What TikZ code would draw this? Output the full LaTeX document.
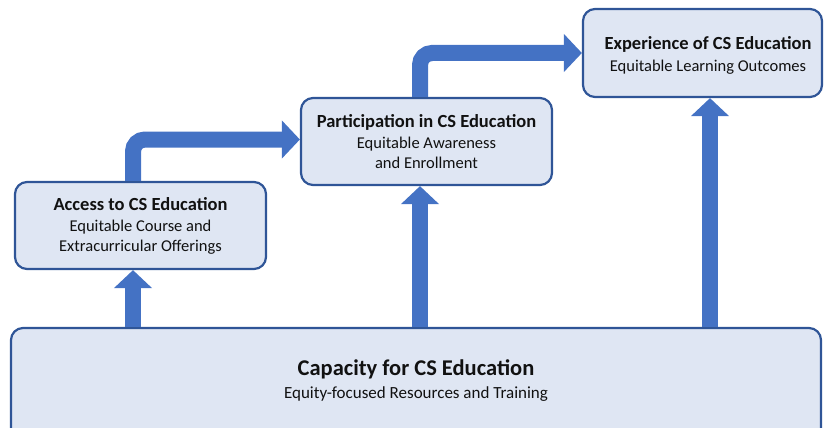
\documentclass[tikz,border=0pt]{standalone}
\usepackage{fontspec}
\setmainfont{Carlito}
\usetikzlibrary{arrows.meta}
\definecolor{boxfill}{HTML}{DFE6F3}
\definecolor{boxline}{HTML}{2F5597}
\definecolor{arrowblue}{HTML}{4472C4}
\definecolor{txt}{HTML}{111111}
\begin{document}
\begin{tikzpicture}[x=1pt,y=-1pt,
  box/.style={draw=boxline,fill=boxfill,line width=2.2pt,rounded corners=12pt,
    align=center,inner sep=0pt,text=txt,font=\fontsize{16.5}{19.5}\selectfont},
  flow/.style={draw=arrowblue,line width=16pt,rounded corners=12pt,
    -{Triangle[width=37pt,length=18pt]}}]
\useasboundingbox (0,0) rectangle (825,428);
\node[box,minimum width=251pt,minimum height=87pt] (a) at (140.5,225.5)
  {\textbf{\fontsize{18.5}{20.5}\selectfont Access to CS Education}\\[2pt]Equitable Course and\\Extracurricular Offerings};
\node[box,minimum width=251pt,minimum height=87pt] (p) at (426.5,141.5)
  {\textbf{\fontsize{18.5}{20.5}\selectfont Participation in CS Education}\\[2pt]Equitable Awareness\\and Enrollment};
\node[box,minimum width=239pt,minimum height=88pt] (e) at (702.5,53)
  {\hspace*{11pt}\rule{0pt}{18pt}\textbf{\fontsize{18.5}{20.5}\selectfont Experience of CS Education}\\[3pt]\hspace*{11pt}Equitable Learning Outcomes};
\node[box,minimum width=810pt,minimum height=116pt] (c) at (416,386) {};
\node[align=center,inner sep=0pt,text=txt,font=\fontsize{17}{23}\selectfont] (ct) at (416,381)
  {\textbf{\fontsize{22.5}{23}\selectfont Capacity for CS Education}\\Equity-focused Resources and Training};
\coordinate (x1) at (133,0);
\coordinate (x2) at (420,0);
\coordinate (x3) at (710,0);
\draw[flow] (a.north -| x1) |- ([yshift=2pt]p.west);
\draw[flow] (p.north -| x2) |- (e.west);
\draw[flow] (c.north -| x1) -- (a.south -| x1);
\draw[flow] (c.north -| x2) -- (p.south -| x2);
\draw[flow] (c.north -| x3) -- (e.south -| x3);
\end{tikzpicture}
\end{document}
